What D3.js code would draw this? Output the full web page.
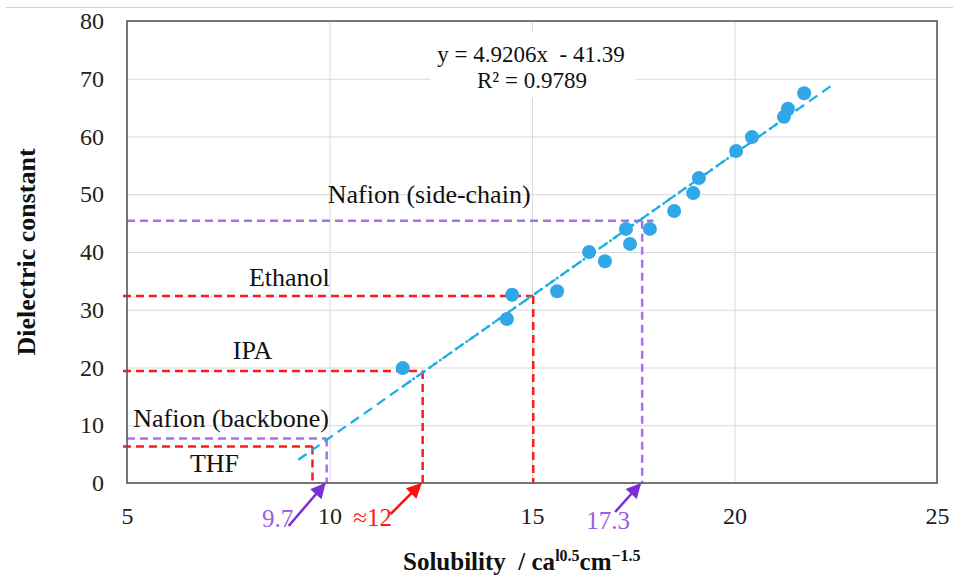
<!DOCTYPE html>
<html>
<head>
<meta charset="utf-8">
<title>Dielectric constant vs solubility</title>
<script src="https://d3js.org/d3.v7.min.js"></script>
<style>
    body { margin: 0; background: #fff; }
    svg { display: block; }
    text { white-space: pre; }
</style>
</head>
<body>
<svg id="chart" width="953" height="576"></svg>
<script>
// solvent points: solubility parameter vs dielectric constant
const solubility = [11.81, 14.38, 14.51, 15.62, 16.41, 16.80, 17.32, 17.42, 17.91,
                    18.51, 18.98, 19.12, 20.04, 20.43, 21.22, 21.32, 21.72];
const dielectric = [19.9, 28.4, 32.6, 33.2, 40.0, 38.4, 44.0, 41.4, 44.0,
                    47.1, 50.2, 52.8, 57.5, 59.9, 63.4, 64.8, 67.5];

const xTicks = [5, 10, 15, 20, 25];
const yTicks = [0, 10, 20, 30, 40, 50, 60, 70, 80];

// trend line y = 4.9206x - 41.39
const slope = 4.9206, intercept = -41.39;
const fitRange = [9.23, 22.48];

// guide lines: name, vertical at gx, horizontal at gy, horizontal end hx
const guideNames = ["Nafion (side-chain)", "Ethanol", "IPA", "Nafion (backbone)", "THF"];
const guideX = [17.72, 15.03, 12.3, 9.93, 9.58];
const guideY = [45.4, 32.4, 19.4, 7.7, 6.3];
const guideEnd = [18.0, 15.03, 12.3, 9.93, 9.58];
const guideKind = ["nafion", "solvent", "solvent", "nafion", "solvent"];

// readings marked below the axis
const readLabels = ["9.7", "\u224812", "17.3"];
const readGuide = [3, 2, 0];   // index into guides

const FONT = "Liberation Serif, Times New Roman, serif";
const svg = d3.select("#chart").attr("font-family", FONT);
const W = 953, H = 576;
const margin = {top: 21, right: 16, bottom: 93, left: 127};
const w = W - margin.left - margin.right;
const h = H - margin.top - margin.bottom;

const x = d3.scaleLinear().domain([5, 25]).range([margin.left, margin.left + w]);
const y = d3.scaleLinear().domain([0, 80]).range([margin.top + h, margin.top]);

const purple = "#a86ff0", red = "#ff1a1a", blue = "#19aee8", dot = "#30a8e8";
const colorOf = k => k === "nafion" ? purple : red;

// outer chart border (only top edge is visible)
svg.append("line")
    .attr("x1", 6).attr("x2", W).attr("y1", 7.5).attr("y2", 7.5)
    .attr("stroke", "#d0d0d0").attr("stroke-width", 1);

// grid
const grid = svg.append("g");
grid.selectAll(".gy").data(yTicks).enter().append("line")
    .attr("x1", margin.left).attr("x2", margin.left + w)
    .attr("y1", d => y(d) + 0.5).attr("y2", d => y(d) + 0.5)
    .attr("stroke", "#d9d9d9");
grid.selectAll(".gx").data(xTicks).enter().append("line")
    .attr("y1", margin.top).attr("y2", margin.top + h)
    .attr("x1", d => x(d) + 0.5).attr("x2", d => x(d) + 0.5)
    .attr("stroke", "#d9d9d9");

// equation box covers the grid
svg.append("rect")
    .attr("x", 430).attr("y", 33).attr("width", 205).attr("height", 65)
    .attr("fill", "#fff");
svg.append("text")
    .attr("x", 531).attr("y", 62).attr("text-anchor", "middle")
    .attr("font-size", 23).attr("fill", "#111")
    .text("y = 4.9206x  - 41.39");
svg.append("text")
    .attr("x", 532).attr("y", 88).attr("text-anchor", "middle")
    .attr("font-size", 23).attr("fill", "#111")
    .text("R\u00b2 = 0.9789");

// guides
const guides = guideNames.map((n, i) => ({name: n, gx: guideX[i], gy: guideY[i], hx: guideEnd[i], kind: guideKind[i]}));
const gG = svg.append("g");
guides.forEach(g => {
    const c = colorOf(g.kind);
    const x0 = g.kind === "solvent" ? 4.9 : 5;
    gG.append("line")
        .attr("x1", x(x0)).attr("x2", x(g.hx))
        .attr("y1", y(g.gy)).attr("y2", y(g.gy))
        .attr("stroke", c).attr("stroke-width", 2.5).attr("stroke-dasharray", "8,5");
    gG.append("line")
        .attr("x1", x(g.gx)).attr("x2", x(g.gx))
        .attr("y1", y(g.gy)).attr("y2", y(0))
        .attr("stroke", c).attr("stroke-width", 2.5).attr("stroke-dasharray", "8,5");
});

// guide names
const labelPos = [[12.46, 48.5], [9.01, 34.1], [8.10, 21.4], [7.57, 9.75], [7.16, 1.96]];
svg.selectAll(".gname").data(guides).enter().append("text")
    .attr("x", (d, i) => x(labelPos[i][0]))
    .attr("y", (d, i) => y(labelPos[i][1]))
    .attr("text-anchor", "middle").attr("font-size", 26).attr("fill", "#111")
    .text(d => d.name);

// trend line, dashed plus dotted overlay over the data span
svg.append("line")
    .attr("x1", x(fitRange[0])).attr("y1", y(slope * fitRange[0] + intercept))
    .attr("x2", x(fitRange[1])).attr("y2", y(slope * fitRange[1] + intercept))
    .attr("stroke", blue).attr("stroke-width", 2.2).attr("stroke-dasharray", "10,6");
const xmin = d3.min(solubility), xmax = d3.max(solubility);
svg.append("line")
    .attr("x1", x(xmin)).attr("y1", y(slope * xmin + intercept))
    .attr("x2", x(xmax)).attr("y2", y(slope * xmax + intercept))
    .attr("stroke", blue).attr("stroke-width", 2.6).attr("stroke-linecap", "round")
    .attr("stroke-dasharray", "0.5,6");

// points
svg.selectAll(".pt").data(solubility).enter().append("circle")
    .attr("cx", d => x(d)).attr("cy", (d, i) => y(dielectric[i]))
    .attr("r", 7).attr("fill", dot);

// plot frame
svg.append("rect")
    .attr("x", margin.left).attr("y", margin.top).attr("width", w).attr("height", h)
    .attr("fill", "none").attr("stroke", "#595959").attr("stroke-width", 1.6);

// axes
const xAxis = svg.append("g")
    .attr("transform", `translate(0,${margin.top + h})`)
    .call(d3.axisBottom(x).tickValues(xTicks).tickSize(0).tickPadding(24));
const yAxis = svg.append("g")
    .attr("transform", `translate(${margin.left},0)`)
    .call(d3.axisLeft(y).tickValues(yTicks).tickSize(0).tickPadding(23));
[xAxis, yAxis].forEach(a => {
    a.select(".domain").remove();
    a.attr("font-family", FONT);
    a.selectAll("text").attr("font-size", 24).attr("fill", "#222");
});

// readings with arrows
const defs = svg.append("defs");
[["arrP", "#7a2fd6"], ["arrR", "#ff1010"]].forEach(([id, c]) => {
    defs.append("marker").attr("id", id)
        .attr("viewBox", "0 0 10 10").attr("refX", 9).attr("refY", 5)
        .attr("markerUnits", "userSpaceOnUse")
        .attr("markerWidth", 17).attr("markerHeight", 15).attr("orient", "auto")
        .append("path").attr("d", "M0,0L10,5L0,10Z").attr("fill", c);
});
const readOffsets = [[-36, 42, -47, 41], [-30, 30, -48, 40], [-25, 28, -32, 43]];
readGuide.forEach((gi, i) => {
    const g = guides[gi];
    const tipX = x(g.gx) - 2, tipY = y(0) + 1;
    const o = readOffsets[i];
    const purpleRead = g.kind === "nafion";
    svg.append("line")
        .attr("x1", tipX + o[0]).attr("y1", tipY + o[1])
        .attr("x2", tipX).attr("y2", tipY)
        .attr("stroke", purpleRead ? "#7a2fd6" : "#ff1010").attr("stroke-width", 2.5)
        .attr("marker-end", purpleRead ? "url(#arrP)" : "url(#arrR)");
    svg.append("text")
        .attr("x", tipX + o[2]).attr("y", tipY + o[3] + 2)
        .attr("text-anchor", "middle").attr("font-size", 25)
        .attr("fill", purpleRead ? "#9b5de5" : "#ff1a1a")
        .text(readLabels[i]);
});

// axis titles
const xt = svg.append("text")
    .attr("x", 403).attr("y", 570)
    .attr("font-size", 25).attr("font-weight", "bold").attr("fill", "#111");
xt.append("tspan").text("Solubility  / ca");
xt.append("tspan").attr("font-size", 16).attr("dy", -9).text("l0.5");
xt.append("tspan").attr("dy", 9).text("cm");
xt.append("tspan").attr("font-size", 16).attr("dy", -9).text("\u22121.5");

svg.append("text")
    .attr("transform", `translate(35,${margin.top + h / 2})rotate(-90)`)
    .attr("text-anchor", "middle")
    .attr("font-size", 26).attr("font-weight", "bold").attr("fill", "#111")
    .text("Dielectric constant");

svg.selectAll("text").attr("font-family", FONT);
</script>
</body>
</html>
